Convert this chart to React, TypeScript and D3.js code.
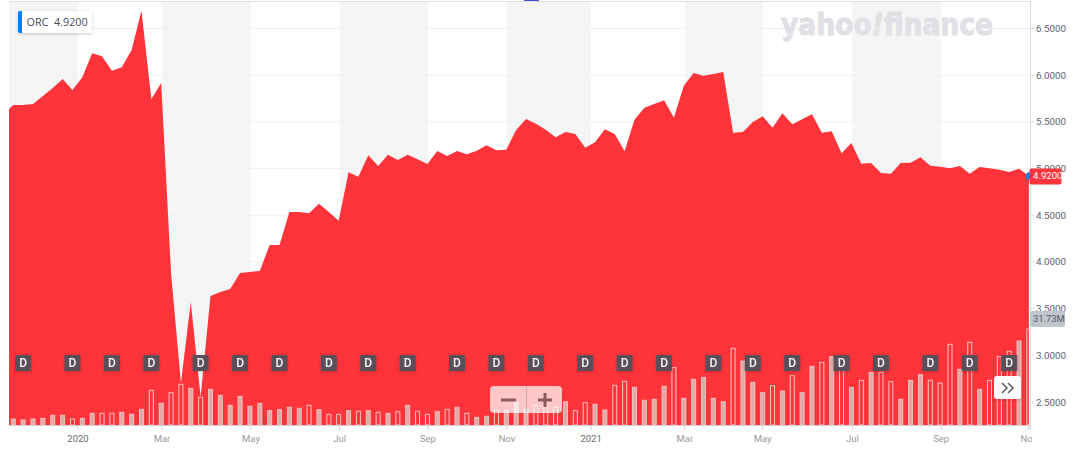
import React from "react";
import * as d3 from "d3";

// Weekly closes, the first one (index -1) falls just left of the plot
const closes = [5.585,5.681,5.681,5.692,5.777,5.863,5.959,5.842,5.977,6.234,6.202,6.048,6.085,6.270,6.691,5.745,5.916,3.882,2.704,3.572,2.554,3.636,3.679,3.711,3.882,3.893,3.904,4.182,4.182,4.535,4.535,4.521,4.624,4.535,4.442,4.960,4.913,5.142,5.028,5.149,5.092,5.149,5.100,5.049,5.188,5.135,5.188,5.153,5.192,5.249,5.196,5.202,5.413,5.531,5.481,5.416,5.335,5.392,5.370,5.224,5.282,5.421,5.370,5.185,5.524,5.652,5.692,5.731,5.545,5.888,6.024,5.995,6.013,6.034,5.384,5.392,5.499,5.560,5.438,5.592,5.474,5.528,5.581,5.384,5.399,5.164,5.274,5.052,5.060,4.953,4.945,5.060,5.063,5.121,5.031,5.020,5.003,5.028,4.945,5.017,5.003,4.988,4.964,4.999,4.920];
const volumes = [1.98,1.65,1.98,2.21,3.21,3.21,1.98,2.21,3.87,3.87,3.87,4.20,3.54,5.19,11.47,7.17,10.68,13.45,12.13,9.15,11.80,9.82,6.51,9.49,6.18,7.17,4.73,5.06,5.85,5.52,6.51,5.06,3.54,3.54,4.73,4.53,4.73,4.20,3.87,4.40,6.51,4.53,3.54,4.40,5.19,5.85,3.87,2.54,2.88,4.96,4.96,7.50,5.19,6.51,6.18,5.85,7.70,4.73,7.37,6.84,4.96,13.12,14.44,12.46,8.16,8.49,12.79,18.94,8.82,15.10,15.76,8.82,7.70,25.35,21.15,14.11,10.68,12.99,11.24,16.29,10.68,19.40,20.72,22.57,20.49,12.46,14.77,17.42,17.42,14.31,8.49,14.77,16.62,14.77,13.88,26.67,18.41,27.33,11.80,14.77,22.57,24.36,27.76,31.73];
const hollowWeeks = [6,9,10,14,16,17,19,30,32,33,35,37,39,41,42,44,46,49,53,54,55,57,58,61,62,67,73,77,79,82,84,86,88,89,93,94,95,97,99,100,101,103];
const dividendWeeks = [1,6,10,14,19,23,27,32,36,40,45,49,53,58,62,66,71,75,79,84,88,93,97,101];
const tickLabels = ["2020","Mar","May","Jul","Sep","Nov","2021","Mar","May","Jul","Sep","Nov"];
const tickWeeks = [6.56,15.08,24.1,33.1,42.05,50.07,58.6,68.1,76.0,85.1,94.1,103];
const priceTicks = [2.5,3,3.5,4,4.5,5,5.5,6,6.5];
const lastPrice = 4.92;
const lastVolume = 31.73;

const RED = "#ff333a";
const LEFT = 9, RIGHT = 1029, BASE = 425;
const FONT = "Roboto, 'Open Sans', sans-serif";

export default function App() {
  const x = d3.scaleLinear().domain([0, 103]).range([13.3, 1028.9]);
  const y = d3.scaleLinear().domain([2.5, 6.5]).range([402, 28.5]);
  const v = d3.scaleLinear().domain([0, lastVolume]).range([BASE, 329]);
  const area = d3.area<number>().x((_, i) => x(i - 1)).y0(BASE).y1((d) => y(d));
  const bandEdges = [LEFT, ...tickWeeks.map((w) => x(w))];
  const bands = d3.pairs(bandEdges).filter((_, i) => i % 2 === 0);
  const hollow = new Set(hollowWeeks);

  return (
    <svg width={1086} height={451} style={{ position: "absolute", left: 0, top: 0, display: "block", background: "#fff" }} fontFamily={FONT}>
      <defs>
        <clipPath id="plot"><rect x={LEFT} y={0} width={RIGHT - LEFT} height={BASE} /></clipPath>
        <clipPath id="plot2"><rect x={0} y={430} width={1032} height={21} /></clipPath>
        <filter id="sh" x="-30%" y="-30%" width="160%" height="160%">
          <feDropShadow dx={0} dy={1} stdDeviation={1.5} floodColor="#000" floodOpacity={0.2} />
        </filter>
      </defs>
      {bands.map(([a, b], i) => <rect key={i} x={a} y={2} width={b - a} height={BASE - 2} fill="#f5f5f5" />)}
      {priceTicks.map((t) => <line key={t} x1={LEFT} x2={RIGHT} y1={y(t)} y2={y(t)} stroke="#f0f0f0" strokeWidth={1} />)}
      <rect x={524} y={0} width={15} height={1} fill="#3d4fd0" />
      <line x1={LEFT} x2={1031} y1={1.5} y2={1.5} stroke="#e0e0e0" />
      <text x={781} y={35} fontFamily="'DejaVu Sans', sans-serif" fontWeight={700} fontSize={30} fill="#dfe1e5" stroke="#dfe1e5" strokeWidth={1} textLength={212} lengthAdjust="spacingAndGlyphs">yahoo<tspan fontStyle="italic">!</tspan>finance</text>

      <g clipPath="url(#plot)">
        <path d={area(closes) ?? ""} fill={RED} />
        {volumes.map((d, i) => hollow.has(i)
          ? <rect key={i} x={x(i) - 2} y={v(d)} width={4} height={BASE - v(d)} fill="none" stroke="#ffc4c4" strokeWidth={1} />
          : <rect key={i} x={x(i) - 2} y={v(d)} width={4} height={BASE - v(d)} fill="#e0aaa7" stroke="#efc0bd" strokeWidth={1} />)}
      </g>

      <line x1={LEFT} x2={RIGHT + 1} y1={BASE + 0.5} y2={BASE + 0.5} stroke="#cfcfcf" />
      <line x1={1030.5} x2={1030.5} y1={1} y2={430} stroke="#dcdcdc" />
      {tickWeeks.map((w, i) => (
        <g key={i}>
          <line x1={x(w)} x2={x(w)} y1={BASE} y2={430} stroke="#cfcfcf" />
          <text x={x(w)} y={442} textAnchor="middle" fontSize={9.5}
            fill={tickLabels[i].length === 4 ? "#6a6a6a" : "#9a9a9a"}
            clipPath={i === tickWeeks.length - 1 ? "url(#plot2)" : undefined}>{tickLabels[i]}</text>
        </g>
      ))}
      {priceTicks.map((t) => (
        <g key={t}>
          <line x1={1030} x2={1034} y1={y(t)} y2={y(t)} stroke="#dcdcdc" />
          <text x={1036} y={y(t) + 3.5} fontSize={9.8} fill="#5b636a">{t.toFixed(4)}</text>
        </g>
      ))}

      {dividendWeeks.map((w) => (
        <g key={w} filter="url(#sh)">
          <rect x={x(w) - 8} y={355} width={16} height={16} fill="#5a5059" />
          <text x={x(w)} y={367.3} textAnchor="middle" fontSize={12} fontWeight={500} fill="#f4f4f4">D</text>
        </g>
      ))}

      <g>
        <rect x={490} y={386} width={72} height={27} rx={4} fill="#fff" fillOpacity={0.72} />
        <line x1={526.5} x2={526.5} y1={387} y2={412} stroke="#b08a8c" strokeOpacity={0.6} />
        <line x1={501} x2={516} y1={400} y2={400} stroke="#8a5a5c" strokeWidth={3} />
        <line x1={538} x2={552} y1={400} y2={400} stroke="#8a5a5c" strokeWidth={3} />
        <line x1={545} x2={545} y1={393} y2={407} stroke="#8a5a5c" strokeWidth={3} />
      </g>

      <g filter="url(#sh)"><rect x={994} y={376} width={27} height={23} rx={3} fill="#fff" /></g>
      <path d="M1002 383 L1007 388 L1002 393 M1008 383 L1013 388 L1008 393" fill="none" stroke="#5f6368" strokeWidth={1.6} />

      <circle cx={1030} cy={y(lastPrice)} r={4} fill="#0081f2" />
      <rect x={1029.5} y={168.5} width={32} height={16} rx={2} fill={RED} />
      <text x={1033} y={y(lastPrice) + 3.3} fontSize={9.6} fill="#fff">{lastPrice.toFixed(4)}</text>
      <rect x={1030} y={311} width={35} height={16} rx={2} fill="#c0c4cc" />
      <text x={1033} y={322} fontSize={9.4} fill="#555c64">{lastVolume.toFixed(2)}M</text>

      <g filter="url(#sh)"><rect x={18} y={11} width={74} height={22} rx={2} fill="#fff" /></g>
      <path d="M22 11 H20 A2 2 0 0 0 18 13 V31 A2 2 0 0 0 20 33 H22 Z" fill="#0081f2" />
      <text x={26.5} y={26} fontSize={10.8} fill="#464e56" fontFamily="'Open Sans', sans-serif" xmlSpace="preserve">ORC  {lastPrice.toFixed(4)}</text>
    </svg>
  );
}
